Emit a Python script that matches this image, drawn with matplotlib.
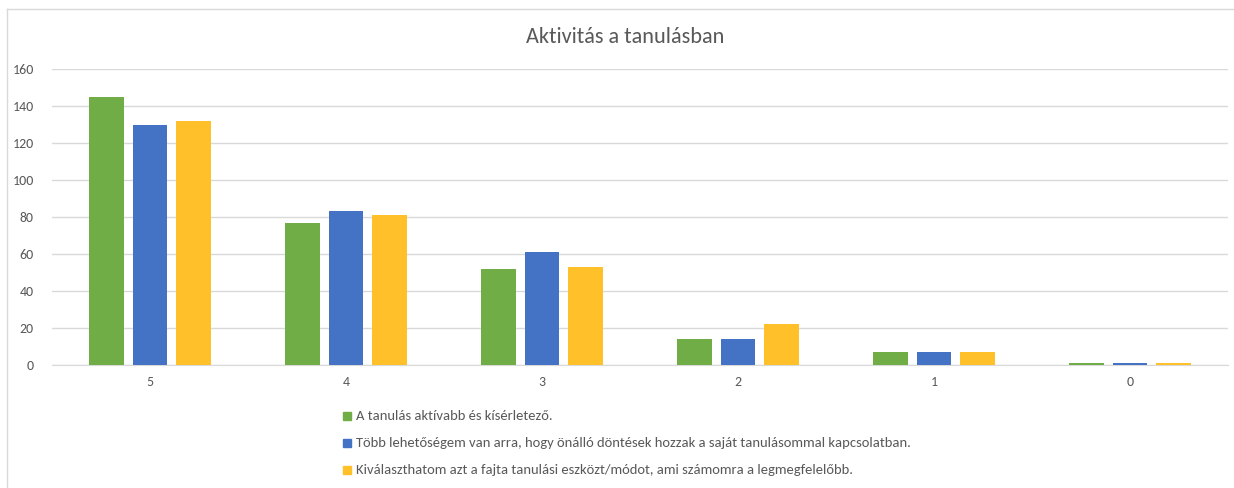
import numpy as np
import matplotlib
matplotlib.use('Agg')
import matplotlib.pyplot as plt
from matplotlib.lines import Line2D

categories = ['5', '4', '3', '2', '1', '0']
series_names = [
    'A tanulás aktívabb és kísérletező.',
    'Több lehetőségem van arra, hogy önálló döntések hozzak a saját tanulásommal kapcsolatban.',
    'Kiválaszthatom azt a fajta tanulási eszközt/módot, ami számomra a legmegfelelőbb.',
]
aktivabb = [145, 77, 52, 14, 7, 1]
onallo = [130, 83, 61, 14, 7, 1]
eszkoz = [132, 81, 53, 22, 7, 1]
colors = ['#70AD47', '#4472C4', '#FFC02A']

plt.rcParams['font.family'] = ['Carlito', 'Liberation Sans', 'DejaVu Sans']

W, H = 1234, 488
fig = plt.figure(figsize=(W / 100, H / 100), dpi=100)
fig.patch.set_facecolor('white')

# plot area in pixels: x 52..1228, y 69..365
ax = fig.add_axes([52 / W, 1 - 365 / H, (1228 - 52) / W, (365 - 69) / H])

x = np.arange(len(categories))
bw = 0.178
step = 0.222
for i, (vals, c, name) in enumerate(zip([aktivabb, onallo, eszkoz], colors, series_names)):
    ax.bar(x + (i - 1) * step, vals, width=bw, color=c, label=name, zorder=3)

ax.set_xlim(-0.5, len(categories) - 0.5)
ax.set_ylim(0, 160)
ax.set_yticks(range(0, 161, 20))
ax.set_xticks(x)
ax.set_xticklabels(categories)
ax.yaxis.grid(True, color='#D9D9D9', linewidth=1.0, zorder=0)
ax.set_axisbelow(True)
for s in ['top', 'right', 'left']:
    ax.spines[s].set_visible(False)
ax.spines['bottom'].set_color('#D9D9D9')
ax.tick_params(axis='both', length=0, colors='#595959', labelsize=10)
ax.tick_params(axis='y', pad=13)
ax.tick_params(axis='x', pad=8)

fig.text(625 / W, 1 - 37 / H, 'Aktivitás a tanulásban', ha='center', va='center',
         fontsize=16, color='#595959')

# legend, stacked vertically below the plot
leg_y = [416, 443, 470]
for yy, c, name in zip(leg_y, colors, series_names):
    fig.patches.append(plt.Rectangle((343 / W, 1 - (yy + 4) / H), 8 / W, 8 / H,
                                     transform=fig.transFigure, color=c, figure=fig))
    fig.text(356 / W, 1 - yy / H, name, ha='left', va='center', fontsize=10.5, color='#595959')

# chart frame (left and top edges visible)
fig.add_artist(Line2D([7 / W, 7 / W], [0, 1 - 9 / H], transform=fig.transFigure,
                      color='#D9D9D9', linewidth=1))
fig.add_artist(Line2D([7 / W, 1], [1 - 9 / H, 1 - 9 / H], transform=fig.transFigure,
                      color='#D9D9D9', linewidth=1))

fig.savefig('out.png', dpi=100, facecolor='white')
